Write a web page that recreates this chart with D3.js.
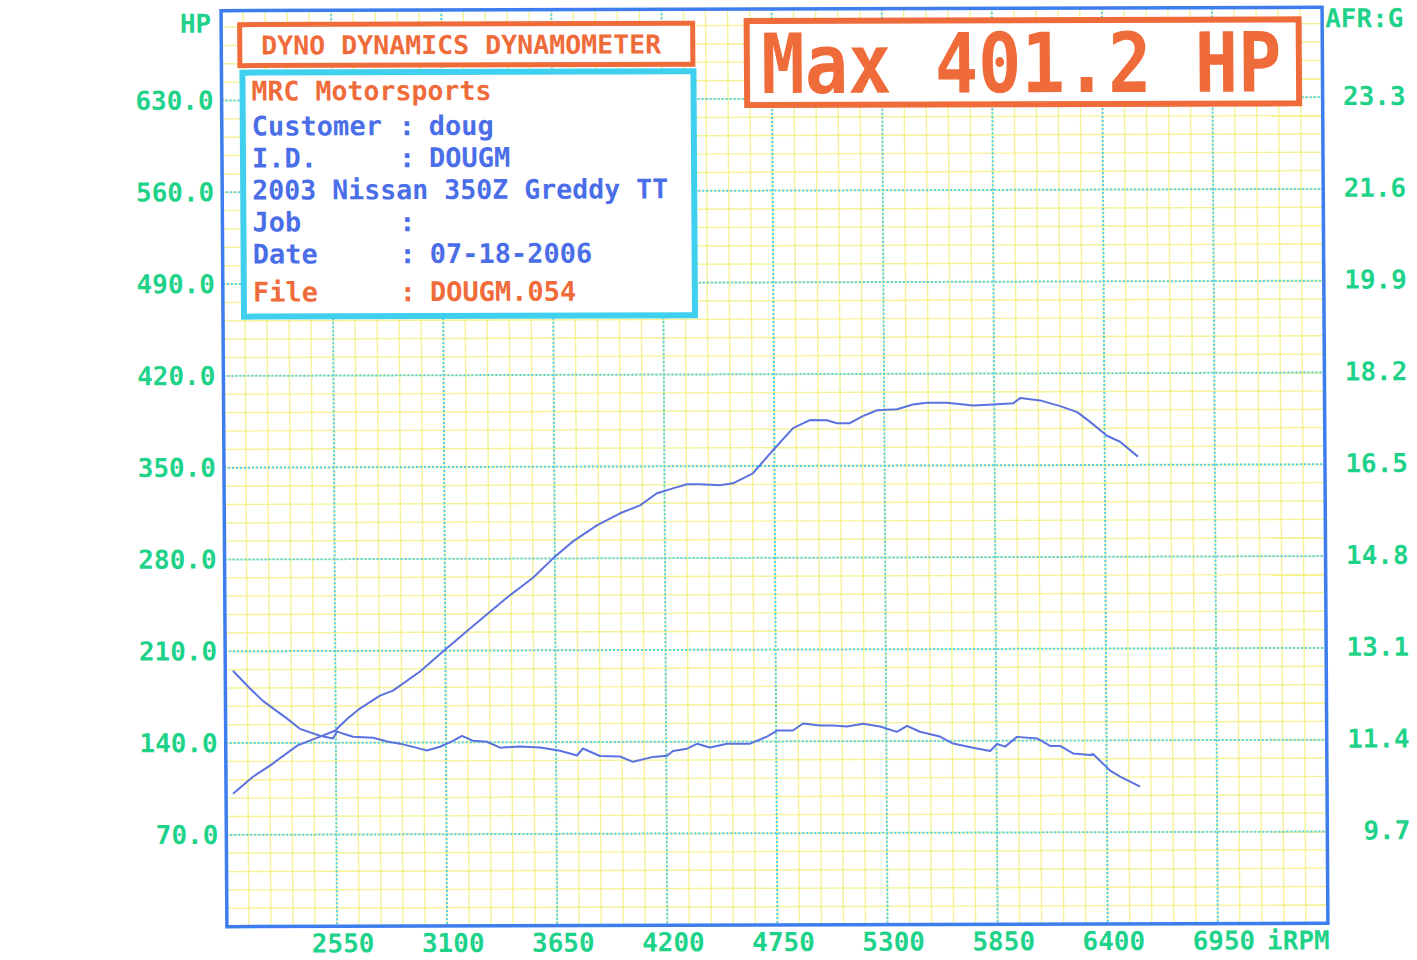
<!DOCTYPE html>
<html>
<head>
<meta charset="utf-8">
<script src="https://cdn.jsdelivr.net/npm/d3@7"></script>
<style>
  html, body { margin: 0; padding: 0; background: #ffffff; }
  svg text { font-family: "DejaVu Sans Mono", "Liberation Mono", monospace; font-weight: bold; }
</style>
</head>
<body>
<svg id="chart" width="1417" height="960"></svg>
<script>
// ---------------- DATA ----------------
const hpRpm = [2035, 2135, 2220, 2357, 2471, 2546, 2608, 2671, 2772, 2837, 2973, 3088, 3224, 3410, 3540, 3641, 3741, 3861, 3977, 4077, 4162, 4242, 4312, 4377, 4477, 4542, 4642, 4743, 4844, 4928, 5013, 5063, 5128, 5193, 5264, 5364, 5444, 5514, 5614, 5744, 5844, 5944, 5979, 6079, 6179, 6264, 6328, 6412, 6477, 6566];
const hpValues = [101.3, 114.3, 122.7, 137.9, 144.7, 149.2, 158.3, 166.0, 175.8, 179.6, 194.1, 209.3, 226.8, 250.4, 265.4, 280.1, 293.0, 305.1, 314.3, 320.3, 329.5, 333.2, 336.3, 336.2, 335.4, 336.9, 344.5, 362.0, 378.8, 384.9, 384.8, 382.5, 382.5, 387.8, 392.3, 393.0, 396.6, 397.8, 397.8, 395.7, 396.4, 397.2, 401.2, 399.4, 395.0, 390.4, 382.9, 372.3, 367.7, 356.3];

const afrRpm = [2038, 2123, 2187, 2307, 2371, 2471, 2536, 2556, 2585, 2636, 2736, 2806, 2870, 2935, 3005, 3070, 3135, 3180, 3235, 3305, 3370, 3470, 3570, 3670, 3754, 3784, 3869, 3969, 4034, 4134, 4204, 4234, 4304, 4354, 4419, 4504, 4619, 4704, 4754, 4834, 4884, 4969, 5034, 5104, 5184, 5269, 5353, 5404, 5468, 5568, 5633, 5733, 5818, 5853, 5893, 5953, 6053, 6118, 6168, 6232, 6317, 6332, 6417, 6467, 6566];
const afrValues = [12.74, 12.41, 12.18, 11.85, 11.66, 11.53, 11.48, 11.61, 11.57, 11.51, 11.49, 11.42, 11.38, 11.32, 11.25, 11.32, 11.43, 11.52, 11.43, 11.41, 11.30, 11.32, 11.30, 11.24, 11.15, 11.28, 11.14, 11.13, 11.03, 11.12, 11.14, 11.23, 11.27, 11.36, 11.29, 11.36, 11.36, 11.49, 11.60, 11.60, 11.73, 11.69, 11.69, 11.67, 11.72, 11.67, 11.57, 11.68, 11.57, 11.48, 11.35, 11.27, 11.21, 11.34, 11.29, 11.47, 11.44, 11.30, 11.30, 11.16, 11.13, 11.15, 10.84, 10.73, 10.54];

const rpmTicks = [2550, 3100, 3650, 4200, 4750, 5300, 5850, 6400, 6950];
const hpTicks = [70, 140, 210, 280, 350, 420, 490, 560, 630];
const hpTickLabels = ["70.0", "140.0", "210.0", "280.0", "350.0", "420.0", "490.0", "560.0", "630.0"];
const afrTicks = [9.7, 11.4, 13.1, 14.8, 16.5, 18.2, 19.9, 21.6, 23.3];
const afrTickLabels = ["9.7", "11.4", "13.1", "14.8", "16.5", "18.2", "19.9", "21.6", "23.3"];

const titleText = "DYNO DYNAMICS DYNAMOMETER";
const shopName = "MRC Motorsports";
const infoLabels = ["Customer", "I.D.", "Job", "Date", "File"];
const infoValues = ["doug", "DOUGM", "", "07-18-2006", "DOUGM.054"];
const vehicleText = "2003 Nissan 350Z Greddy TT";
const maxText = "Max 401.2 HP";

// ---------------- LAYOUT ----------------
const W = 1417, H = 960;
const plot = { left: 224, right: 1325, top: 9, bottom: 925 };
const C = {
  green: "#1fd28a",
  frame: "#3d7def",
  major: "#50d2ee",
  minor: "#f3ee74",
  curve: "#5b72e0",
  orange: "#f06b3a",
  cyan: "#3fcfef",
  blueText: "#4a6ee8"
};

const svg = d3.select("#chart");
svg.append("rect").attr("width", W).attr("height", H).attr("fill", "#ffffff");

// slight scan skew of the original printout
const g = svg.append("g")
  .attr("transform", "translate(775,470) matrix(1,-0.0031,0.0064,1,0,0) translate(-775,-470)");

const x = d3.scaleLinear().domain([2000, 7500]).range([plot.left, plot.right]);
const y = d3.scaleLinear().domain([0, 700]).range([plot.bottom, 7]);
const yAfr = d3.scaleLinear().domain([8, 25]).range([plot.bottom, 7]);

// minor grid (yellow)
const minorV = d3.range(2110, 7499, 110);
const minorH = d3.range(14, 699, 14).filter(v => y(v) > plot.top + 1);
g.append("g").selectAll("line").data(minorV).join("line")
  .attr("x1", d => x(d)).attr("x2", d => x(d))
  .attr("y1", plot.top).attr("y2", plot.bottom)
  .attr("stroke", C.minor).attr("stroke-width", 1.4).attr("opacity", 0.75);
g.append("g").selectAll("line").data(minorH).join("line")
  .attr("y1", d => y(d)).attr("y2", d => y(d))
  .attr("x1", plot.left).attr("x2", plot.right)
  .attr("stroke", C.minor).attr("stroke-width", 1.4).attr("opacity", 0.75);

// major grid (cyan dotted)
g.append("g").selectAll("line").data(rpmTicks).join("line")
  .attr("x1", d => x(d)).attr("x2", d => x(d))
  .attr("y1", plot.top).attr("y2", plot.bottom)
  .attr("stroke", C.major).attr("stroke-width", 2).attr("stroke-dasharray", "2,2");
g.append("g").selectAll("line").data(hpTicks).join("line")
  .attr("y1", d => y(d)).attr("y2", d => y(d))
  .attr("x1", plot.left).attr("x2", plot.right)
  .attr("stroke", C.major).attr("stroke-width", 2).attr("stroke-dasharray", "2,2");

// curves
const hpLine = d3.line().x((d, i) => x(hpRpm[i])).y(d => y(d));
const afrLine = d3.line().x((d, i) => x(afrRpm[i])).y(d => yAfr(d));
g.append("path").datum(hpValues).attr("d", hpLine)
  .attr("fill", "none").attr("stroke", C.curve).attr("stroke-width", 2).attr("stroke-linejoin", "round");
g.append("path").datum(afrValues).attr("d", afrLine)
  .attr("fill", "none").attr("stroke", C.curve).attr("stroke-width", 2).attr("stroke-linejoin", "round");

// frame
g.append("rect")
  .attr("x", plot.left).attr("y", plot.top)
  .attr("width", plot.right - plot.left).attr("height", plot.bottom - plot.top)
  .attr("fill", "none").attr("stroke", C.frame).attr("stroke-width", 3.5);

// left axis labels
g.append("g").selectAll("text").data(hpTicks).join("text")
  .attr("x", plot.left - 8).attr("y", d => y(d) + 9)
  .attr("text-anchor", "end").attr("font-size", 26).attr("fill", C.green)
  .text((d, i) => hpTickLabels[i]);
g.append("text").attr("x", plot.left - 10).attr("y", 31)
  .attr("text-anchor", "end").attr("font-size", 26).attr("fill", C.green).text("HP");

// right axis labels
g.append("g").selectAll("text").data(afrTicks).join("text")
  .attr("x", 1408).attr("y", d => yAfr(d) + 8)
  .attr("text-anchor", "end").attr("font-size", 26).attr("fill", C.green)
  .text((d, i) => afrTickLabels[i]);
g.append("text").attr("x", 1328).attr("y", 29)
  .attr("text-anchor", "start").attr("font-size", 26).attr("fill", C.green).text("AFR:G");

// bottom axis labels
g.append("g").selectAll("text").data(rpmTicks).join("text")
  .attr("x", d => x(d) + 6).attr("y", 951)
  .attr("text-anchor", "middle").attr("font-size", 26).attr("fill", C.green)
  .text(d => String(d));
g.append("text").attr("x", 1264).attr("y", 951)
  .attr("text-anchor", "start").attr("font-size", 26).attr("fill", C.green).text("iRPM");

// title box
g.append("rect").attr("x", 242.5).attr("y", 23).attr("width", 453).attr("height", 41)
  .attr("fill", "#ffffff").attr("stroke", C.orange).attr("stroke-width", 5);
g.append("text").attr("x", 264).attr("y", 53).attr("font-size", 26).attr("fill", C.orange)
  .attr("textLength", 400).attr("lengthAdjust", "spacingAndGlyphs").text(titleText);

// info box
g.append("rect").attr("x", 245).attr("y", 71).attr("width", 451).attr("height", 244)
  .attr("fill", "#ffffff").attr("stroke", C.cyan).attr("stroke-width", 6);
g.append("text").attr("x", 254).attr("y", 99).attr("font-size", 27).attr("fill", C.orange)
  .attr("textLength", 240).attr("lengthAdjust", "spacingAndGlyphs").text(shopName);

const rowsY = [134, 166, 230, 262, 300];
const info = g.append("g");
infoLabels.forEach((lab, i) => {
  const col = i === infoLabels.length - 1 ? C.orange : C.blueText;
  info.append("text").attr("x", 254).attr("y", rowsY[i]).attr("font-size", 27).attr("fill", col).text(lab);
  info.append("text").attr("x", 409).attr("y", rowsY[i]).attr("text-anchor", "middle")
    .attr("font-size", 27).attr("fill", col).text(":");
  if (infoValues[i]) {
    info.append("text").attr("x", 431).attr("y", rowsY[i]).attr("font-size", 27).attr("fill", col).text(infoValues[i]);
  }
});
info.append("text").attr("x", 254).attr("y", 198).attr("font-size", 27).attr("fill", C.blueText)
  .attr("textLength", 416).attr("lengthAdjust", "spacingAndGlyphs").text(vehicleText);

// max box
g.append("rect").attr("x", 749.5).attr("y", 21).attr("width", 552).attr("height", 84)
  .attr("fill", "#ffffff").attr("stroke", C.orange).attr("stroke-width", 6);
g.append("text").attr("transform", "translate(764,93) scale(1,1.15)")
  .attr("x", 0).attr("y", 0).attr("font-size", 72).attr("fill", C.orange)
  .text(maxText);
</script>
</body>
</html>
